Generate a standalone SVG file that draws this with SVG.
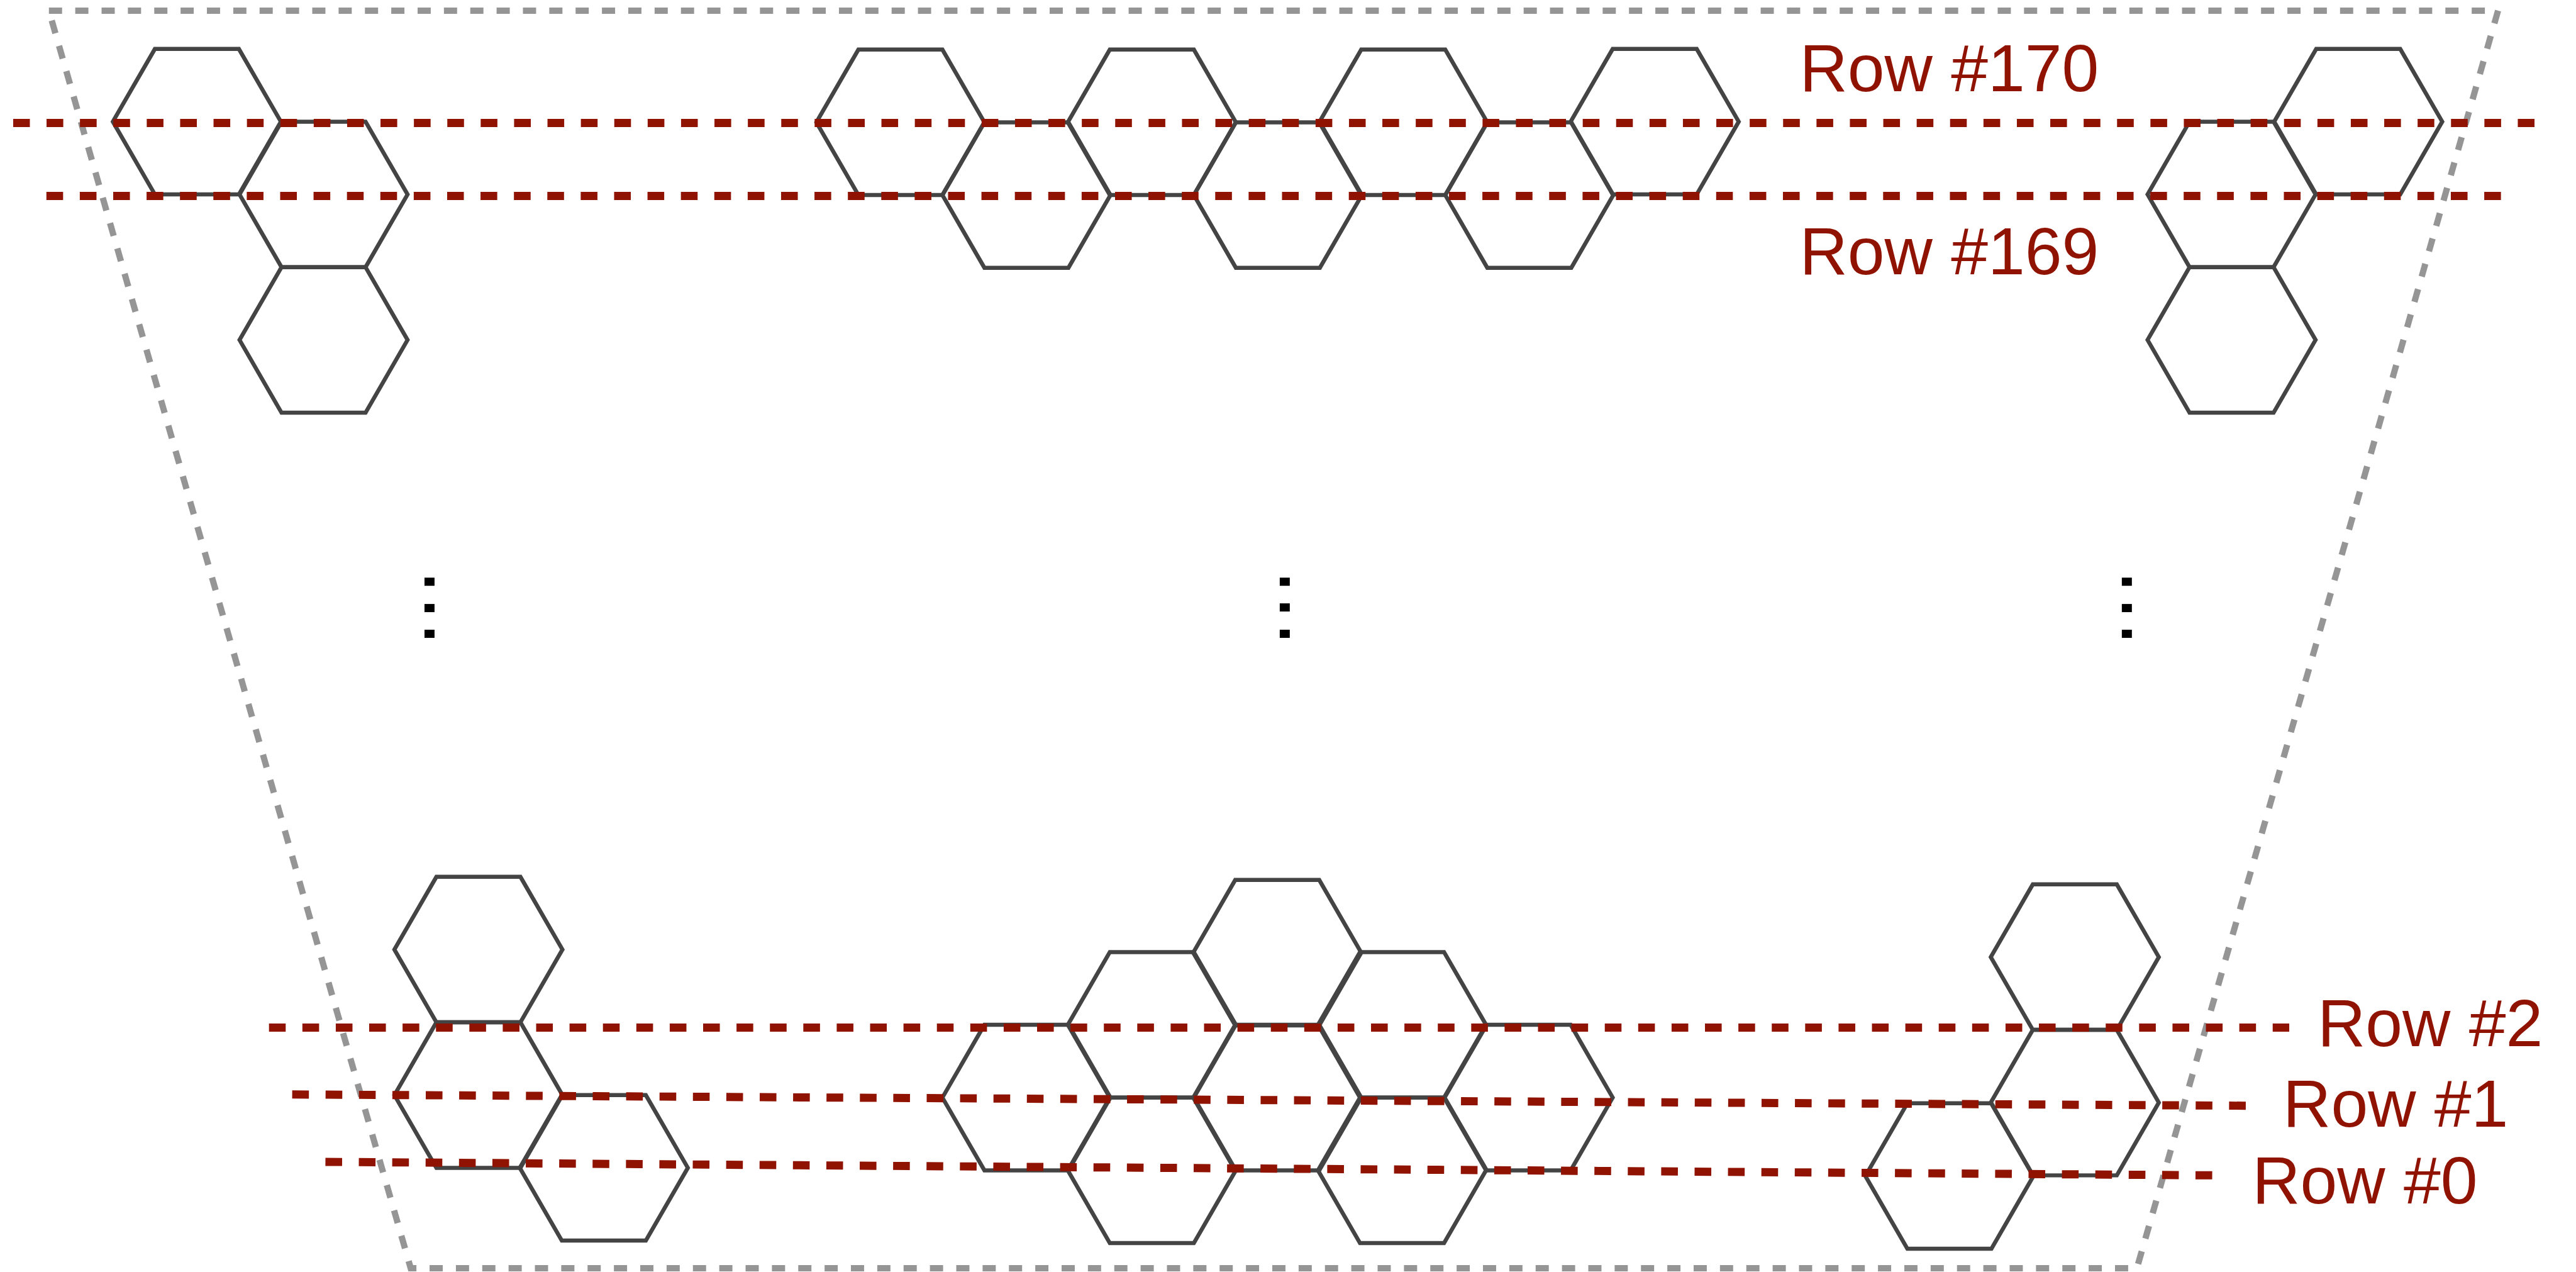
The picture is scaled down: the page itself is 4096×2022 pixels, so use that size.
<svg xmlns="http://www.w3.org/2000/svg" xmlns:xlink="http://www.w3.org/1999/xlink" width="4096" height="2022" viewBox="0 0 4096 2022">
<style>
.hex{fill:none;stroke:#444444;stroke-width:6.5;stroke-linejoin:miter}
.row{stroke:#901200;stroke-width:13;stroke-dasharray:26.63 26.63;fill:none}
.border{fill:none;stroke:#959595;stroke-width:10;stroke-dasharray:21 21}
.lbl{font-family:"Liberation Sans",Arial,sans-serif;font-size:106px;fill:#901200}
.dot{fill:#000000}
</style>
<defs>
<polygon id="hx" class="hex" points="-134,0 -67,-116 67,-116 134,0 67,116 -67,116"/>
</defs>
<rect width="4096" height="2022" fill="#ffffff"/>
<g transform="scale(0.997)">
<g id="border">
<polygon class="border" points="78,17 3984,17 3408,2022 655,2022"/>
</g>
<g id="hexagons">
<g id="hex-tl-1"><use xlink:href="#hx" x="314" y="194"/></g>
<g id="hex-tl-2"><use xlink:href="#hx" x="516" y="310"/></g>
<g id="hex-tl-3"><use xlink:href="#hx" x="516" y="542"/></g>
<g id="hex-tm-1"><use xlink:href="#hx" x="1436" y="195"/></g>
<g id="hex-tm-2"><use xlink:href="#hx" x="1637" y="311"/></g>
<g id="hex-tm-3"><use xlink:href="#hx" x="1837" y="195"/></g>
<g id="hex-tm-4"><use xlink:href="#hx" x="2038" y="311"/></g>
<g id="hex-tm-5"><use xlink:href="#hx" x="2238" y="195"/></g>
<g id="hex-tm-6"><use xlink:href="#hx" x="2439" y="311"/></g>
<g id="hex-tm-7"><use xlink:href="#hx" x="2639" y="194"/></g>
<g id="hex-tr-1"><use xlink:href="#hx" x="3761" y="194"/></g>
<g id="hex-tr-2"><use xlink:href="#hx" x="3559" y="310"/></g>
<g id="hex-tr-3"><use xlink:href="#hx" x="3559" y="542"/></g>
<g id="hex-bl-1"><use xlink:href="#hx" x="763" y="1514"/></g>
<g id="hex-bl-2"><use xlink:href="#hx" x="763" y="1746"/></g>
<g id="hex-bl-3"><use xlink:href="#hx" x="963" y="1862"/></g>
<g id="hex-bm-1"><use xlink:href="#hx" x="2037" y="1519"/></g>
<g id="hex-bm-2"><use xlink:href="#hx" x="1837" y="1634"/></g>
<g id="hex-bm-3"><use xlink:href="#hx" x="2236" y="1634"/></g>
<g id="hex-bm-4"><use xlink:href="#hx" x="1637" y="1750"/></g>
<g id="hex-bm-5"><use xlink:href="#hx" x="2037" y="1750"/></g>
<g id="hex-bm-6"><use xlink:href="#hx" x="2438" y="1750"/></g>
<g id="hex-bm-7"><use xlink:href="#hx" x="1837" y="1866"/></g>
<g id="hex-bm-8"><use xlink:href="#hx" x="2236" y="1866"/></g>
<g id="hex-br-1"><use xlink:href="#hx" x="3309" y="1526"/></g>
<g id="hex-br-2"><use xlink:href="#hx" x="3309" y="1758"/></g>
<g id="hex-br-3"><use xlink:href="#hx" x="3109" y="1875"/></g>
</g>
<g id="connectors">
<line class="row" x1="21" y1="196" x2="4048" y2="196"/>
<line class="row" x1="74" y1="312.5" x2="3994" y2="312.5"/>
<line class="row" x1="429" y1="1638.5" x2="3651" y2="1638.5"/>
<line class="row" x1="466" y1="1745" x2="3586" y2="1763"/>
<line class="row" x1="519" y1="1852.5" x2="3532" y2="1874"/>
</g>
<g id="labels">
<text class="lbl" x="2870" y="145">Row #170</text>
<text class="lbl" x="2870" y="437">Row #169</text>
<text class="lbl" x="3696" y="1668">Row #2</text>
<text class="lbl" x="3641" y="1796">Row #1</text>
<text class="lbl" x="3592" y="1919">Row #0</text>
</g>
<g id="ellipses">
<rect class="dot" x="677" y="921" width="16" height="13"/>
<rect class="dot" x="677" y="963" width="16" height="13"/>
<rect class="dot" x="677" y="1004" width="16" height="13"/>
<rect class="dot" x="2041" y="921" width="16" height="13"/>
<rect class="dot" x="2041" y="962" width="16" height="13"/>
<rect class="dot" x="2041" y="1004" width="16" height="13"/>
<rect class="dot" x="3384" y="921" width="16" height="13"/>
<rect class="dot" x="3384" y="963" width="16" height="13"/>
<rect class="dot" x="3384" y="1004" width="16" height="13"/>
</g>
</g>
</svg>
